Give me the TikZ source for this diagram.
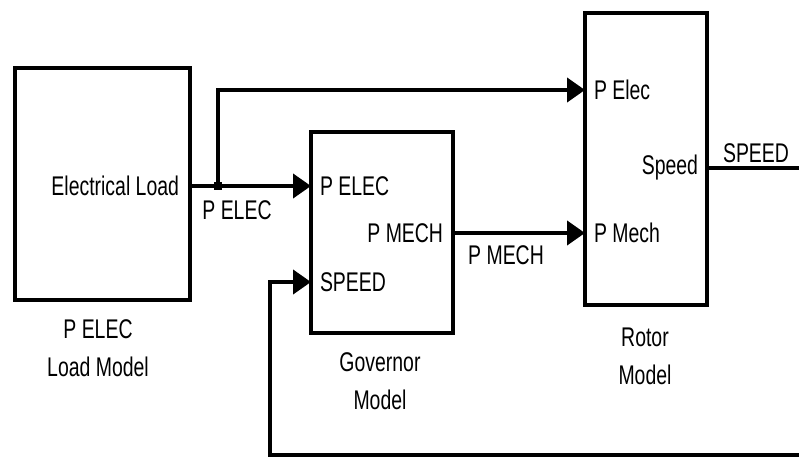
\documentclass[tikz,border=0pt]{standalone}
\usepackage{fontspec}
\setmainfont{Liberation Sans}[FakeStretch=0.72]
\usetikzlibrary{arrows.meta}
\tikzset{blk/.style={draw, line width=4pt, inner sep=0pt}}
\begin{document}
\begin{tikzpicture}[x=1pt, y=-1pt, >={Triangle[length=18pt,width=24pt]}, line width=4pt,
    every node/.style={font=\fontsize{27}{38}\selectfont, inner sep=0pt}]
  \useasboundingbox (0,0) rectangle (799,457);
  % blocks
  \node[blk, minimum width=175pt, minimum height=232pt] (load) at (102.5,184) {};
  \node[blk, minimum width=142pt, minimum height=201pt] (gov) at (382,232.5) {};
  \node[blk, minimum width=122pt, minimum height=292pt] (rot) at (646,159) {};

  % ports and free ends
  \coordinate (jn) at (218,186);
  \coordinate (gpe) at (311,186);
  \coordinate (gsp) at (311,282);
  \coordinate (gpm) at (453,233);
  \coordinate (rpe) at (585,90);
  \coordinate (rpm) at (585,233);
  \coordinate (rsp) at (707,168);
  \coordinate (outr) at (799,168);
  \coordinate (fbr) at (799,455);
  \coordinate (fbl) at (270,455);

  % signals
  \draw (load.east |- jn) -- (jn);
  \draw[->] (jn) -- (gpe);
  \draw[->] (jn) |- (rpe);
  \draw[->] (gpm) -- (rpm);
  \draw (rsp) -- (outr);
  \draw[->] (fbr) -- (fbl) |- (gsp);
  \fill (jn) +(-4,-4) rectangle +(4,4);

  % port labels
  \node[anchor=east] at (181,186) {Electrical Load};
  \node at (237,210) {P ELEC};
  \node[anchor=west] at (318,186) {P ELEC};
  \node[anchor=west] at (318,282) {SPEED};
  \node[anchor=east] at (445,233) {P MECH};
  \node at (506,255) {P MECH};
  \node[anchor=west] at (592,90) {P Elec};
  \node[anchor=east] at (700,168) {Speed};
  \node[anchor=west] at (592,233) {P Mech};
  \node at (756,153) {SPEED};

  % block captions
  \node[align=center] at (98,348) {P ELEC\\Load Model};
  \node[align=center] at (380,381) {Governor\\Model};
  \node[align=center] at (645,356.5) {Rotor\\Model};
\end{tikzpicture}
\end{document}
